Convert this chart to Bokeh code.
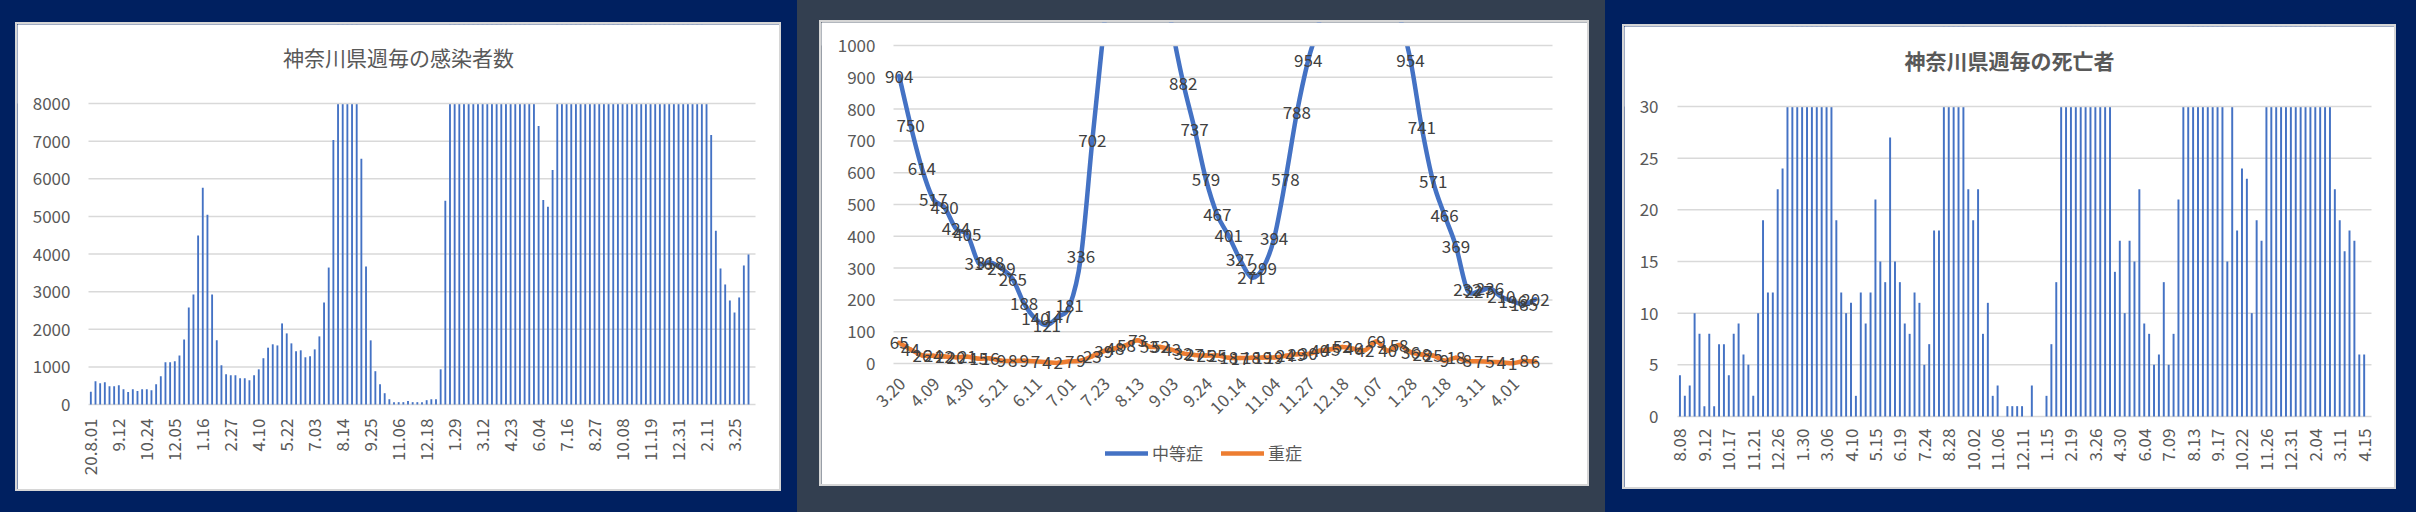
import math
from bokeh.plotting import figure
from bokeh.models import Range1d, LabelSet, ColumnDataSource, Legend, LegendItem, Row
from bokeh.core.properties import value
from bokeh.embed import file_html
from bokeh.resources import INLINE

NAVY = "#002060"
SLATE = "#333F50"
BLUE = "#4472C4"
ORANGE = "#ED7D31"
GRID = "#D9D9D9"
TXT = "#595959"
LBL = "#404040"
FONT = "Noto Sans CJK JP"

# ---------------- data: weekly infections ----------------
cases_title = "神奈川県週毎の感染者数"
cases_labels = ["20.8.01", "9.12", "10.24", "12.05", "1.16", "2.27", "4.10", "5.22", "7.03",
                "8.14", "9.25", "11.06", "12.18", "1.29", "3.12", "4.23", "6.04", "7.16",
                "8.27", "10.08", "11.19", "12.31", "2.11", "3.25"]
cases_label_step = 6
cases = [340, 620, 565, 590, 485, 485, 510, 405, 335, 405,
         360, 405, 405, 380, 540, 750, 1120, 1120, 1150, 1305,
         1730, 2580, 2925, 4490, 5760, 5045, 2925, 1705, 1040, 805,
         775, 775, 700, 700, 645, 775, 935, 1230, 1510, 1600,
         1570, 2155, 1890, 1625, 1415, 1440, 1255, 1280, 1465, 1810,
         2710, 3640, 7030, 10400, 13900, 16800, 14200, 10100, 6530, 3665,
         1705, 885, 540, 300, 140, 62, 62, 62, 90, 62,
         62, 62, 115, 140, 140, 935, 5415,
         16500, 30200, 41800, 44500, 40100, 35600, 31000, 27400, 25800, 24500,
         22600, 20100, 19000, 18200, 16400, 14900, 13800, 11500, 9300,
         7400, 5435, 5255, 6235,
         10400, 19800, 38500, 56000, 66000, 68500, 62000, 58000, 52000, 43000,
         36000, 30500, 22500, 17000, 14800, 12500, 11000, 9800, 10600, 12400,
         15800, 19500, 22800, 26000, 29500, 33800, 40200, 38400, 30100, 21600,
         15800, 12400, 9400,
         7165, 4620, 3615, 3190, 2765, 2445, 2845, 3695, 3985]
cases_yticks = [0, 1000, 2000, 3000, 4000, 5000, 6000, 7000, 8000]

# ---------------- data: moderate / severe patients ----------------
severity_labels = ["3.20", "4.09", "4.30", "5.21", "6.11", "7.01", "7.23", "8.13", "9.03", "9.24",
                   "10.14", "11.04", "11.27", "12.18", "1.07", "1.28", "2.18", "3.11", "4.01"]
severity_label_step = 3
severity_names = ["中等症", "重症"]
moderate = [904, 750, 614, 517, 490, 424, 405, 316, 318, 299,
            265, 188, 140, 121, 147, 181, 336, 702, 1050, 1400,
            1650, 1700, 1550, 1300, 1060, 882, 737, 579, 467, 401,
            327, 271, 299, 394, 578, 788, 954, 1080, 1300, 1500,
            1600, 1550, 1400, 1250, 1100, 954, 741, 571, 466, 369,
            232, 227, 236, 210, 196, 185, 202]
severe = [65, 44, 26, 24, 22, 20, 21, 15, 16, 9,
          8, 9, 7, 4, 2, 7, 9, 23, 39, 48,
          58, 73, 53, 52, 43, 32, 27, 25, 25, 18,
          17, 18, 19, 19, 24, 29, 30, 40, 45, 52,
          46, 42, 69, 40, 58, 36, 28, 25, 9, 18,
          8, 7, 5, 4, 1, 8, 6]
severity_yticks = [0, 100, 200, 300, 400, 500, 600, 700, 800, 900, 1000]

# ---------------- data: weekly deaths ----------------
deaths_title = "神奈川県週毎の死亡者"
deaths_labels = ["8.08", "9.12", "10.17", "11.21", "12.26", "1.30", "3.06", "4.10", "5.15", "6.19",
                 "7.24", "8.28", "10.02", "11.06", "12.11", "1.15", "2.19", "3.26", "4.30", "6.04",
                 "7.09", "8.13", "9.17", "10.22", "11.26", "12.31", "2.04", "3.11", "4.15"]
deaths_label_step = 5
deaths = [4, 2, 3, 10, 8, 1, 8, 1, 7, 7, 4, 8, 9, 6, 5, 2, 10, 19, 12, 12, 22, 24,
          36, 41, 52, 63, 70, 66, 58, 49, 42, 34,
          19, 12, 10, 11, 2, 12, 9, 12, 21, 15, 13, 27, 15, 13, 9, 8, 12, 11, 5, 7, 18, 18,
          39, 58, 72, 61, 44,
          22, 19, 22, 8, 11, 2, 3, 0, 1, 1, 1, 1,
          0, 3, 0, 0, 2, 7, 13,
          38, 55, 82, 106, 112, 98, 84, 70, 56, 45, 34,
          14, 17, 10, 17, 15, 22, 9, 8, 5, 6, 13, 5, 8, 21,
          35, 68, 112, 158, 176, 149, 112, 76, 48,
          15, 31,
          18, 24, 23, 10, 19, 17,
          33, 48, 75, 104, 142, 186, 224, 251, 236, 182, 128, 84, 52, 36,
          22, 19, 16, 18, 17, 6, 6]
deaths_yticks = [0, 5, 10, 15, 20, 25, 30]


class Panel:
    """A figure whose frame is the whole white card; the Excel plot area is mapped
    onto the given pixel box through the figure's own ranges."""

    def __init__(self, W, H, plot_box, n_cat, ymax):
        pl, pt, pw, ph = plot_box
        self.n_cat, self.ymax = n_cat, ymax
        self.cat = pw / n_cat
        self.unit = ph / ymax
        self.xs = -0.5 - pl / self.cat
        self.xe = self.xs + W / self.cat
        self.ye = ymax + pt / self.unit
        self.ys = self.ye - H / self.unit
        p = figure(width=W, height=H, x_range=Range1d(self.xs, self.xe),
                   y_range=Range1d(self.ys, self.ye), output_backend="svg",
                   toolbar_location=None, x_axis_location=None, y_axis_location=None,
                   min_border=0)
        p.grid.visible = False
        p.outline_line_color = None
        p.background_fill_color = "white"
        p.border_fill_color = "white"
        p.styles = {"box-shadow": "0 0 0 2px #D6D6D6"}
        self.p = p

    def to_data(self, cx, cy):
        return self.xs + cx / self.cat, self.ye - cy / self.unit

    def grid(self, ticks):
        n = len(ticks)
        self.p.segment(x0=[-0.5] * n, x1=[self.n_cat - 0.5] * n, y0=ticks, y1=ticks,
                       line_color=GRID, line_width=1.5)

    def mask_above(self):
        # hides what Excel clips above the top of the value axis
        self.p.quad(left=[self.xs], right=[self.xe], bottom=[self.ymax], top=[self.ye],
                    fill_color="white", line_color=None)

    def ylabels(self, ticks, standoff):
        s = ColumnDataSource(dict(x=[-0.5] * len(ticks), y=ticks, t=[str(t) for t in ticks]))
        self.p.add_layout(LabelSet(x="x", y="y", text="t", source=s, x_offset=-standoff,
                                   text_align="right", text_baseline="middle",
                                   text_font=value(FONT), text_font_size="17px",
                                   text_color=TXT))

    def xlabels(self, labels, step, angle, x_off, y_off):
        pos = [k * step for k in range(len(labels))]
        s = ColumnDataSource(dict(x=pos, y=[0] * len(pos), t=labels))
        self.p.add_layout(LabelSet(x="x", y="y", text="t", source=s, angle=angle,
                                   x_offset=x_off, y_offset=y_off, text_align="right",
                                   text_baseline="middle", text_font=value(FONT),
                                   text_font_size="17px", text_color=TXT))

    def title(self, text, cx, cy, bold):
        x, y = self.to_data(cx, cy)
        s = ColumnDataSource(dict(x=[x], y=[y], t=[text]))
        self.p.add_layout(LabelSet(x="x", y="y", text="t", source=s, text_align="center",
                                   text_baseline="middle", text_font=value(FONT),
                                   text_font_size="21px",
                                   text_font_style="bold" if bold else "normal",
                                   text_color=TXT))


# ---------------- chart 1: weekly infections ----------------
W1, H1 = 762, 465
c1 = Panel(W1, H1, (71, 79, 667, 301), len(cases) + 1, cases_yticks[-1])
c1.grid(cases_yticks[:-1])
c1.p.vbar(x=list(range(len(cases))), top=cases, width=0.4, fill_color=BLUE, line_color=None)
c1.mask_above()
c1.grid(cases_yticks[-1:])
c1.ylabels(cases_yticks, 18)
c1.xlabels(cases_labels, cases_label_step, math.pi / 2, 0, -14)
c1.title(cases_title, W1 / 2, 32, False)
c1.p.margin = (24, 18, 23, 17)

# ---------------- chart 2: moderate / severe ----------------
W2, H2 = 766, 462
c2 = Panel(W2, H2, (72, 23, 659, 318), len(moderate) + 1, severity_yticks[-1])
c2.grid(severity_yticks[:-1])


def smooth(ys):
    n = len(ys)
    d = dict(x0=[], y0=[], x1=[], y1=[], cx0=[], cy0=[], cx1=[], cy1=[])
    for i in range(n - 1):
        a = max(i - 1, 0)
        b = min(i + 2, n - 1)
        d["x0"].append(i); d["y0"].append(ys[i])
        d["x1"].append(i + 1); d["y1"].append(ys[i + 1])
        d["cx0"].append(i + (i + 1 - a) / 6); d["cy0"].append(ys[i] + (ys[i + 1] - ys[a]) / 6)
        d["cx1"].append(i + 1 - (b - i) / 6); d["cy1"].append(ys[i + 1] - (ys[b] - ys[i]) / 6)
    return ColumnDataSource(d)


line_rs = {}
for ys, col in ((severe, ORANGE), (moderate, BLUE)):
    line_rs[col] = c2.p.bezier(x0="x0", y0="y0", x1="x1", y1="y1", cx0="cx0", cy0="cy0",
                               cx1="cx1", cy1="cy1", source=smooth(ys), line_color=col,
                               line_width=4.5, line_cap="round")
c2.mask_above()
c2.grid(severity_yticks[-1:])
c2.ylabels(severity_yticks, 18)
c2.xlabels(severity_labels, severity_label_step, math.pi / 4, 3, -17)

for ys in (moderate, severe):
    xs = [i for i, v in enumerate(ys) if v <= c2.ymax]
    vs = [v for v in ys if v <= c2.ymax]
    s = ColumnDataSource(dict(x=xs, y=vs, t=[str(v) for v in vs]))
    c2.p.add_layout(LabelSet(x="x", y="y", text="t", source=s, text_align="center",
                             text_baseline="middle", text_font=value(FONT),
                             text_font_size="17px", text_color=LBL))

legend = Legend(items=[LegendItem(label=severity_names[0], renderers=[line_rs[BLUE]]),
                       LegendItem(label=severity_names[1], renderers=[line_rs[ORANGE]])],
                orientation="horizontal", location=(284, 19),
                glyph_width=43, glyph_height=18, label_standoff=4, spacing=18,
                padding=0, margin=0, border_line_color=None, background_fill_alpha=0,
                label_text_font=FONT, label_text_font_size="17px", label_text_color=TXT)
c2.p.add_layout(legend)
c2.p.margin = (22, 18, 28, 24)

# ---------------- chart 3: weekly deaths ----------------
W3, H3 = 770, 461
c3 = Panel(W3, H3, (53, 80, 694, 310), len(deaths) + 1, deaths_yticks[-1])
c3.grid(deaths_yticks[:-1])
c3.p.vbar(x=list(range(len(deaths))), top=deaths, width=0.4, fill_color=BLUE, line_color=None)
c3.mask_above()
c3.grid(deaths_yticks[-1:])
c3.ylabels(deaths_yticks, 19)
c3.xlabels(deaths_labels, deaths_label_step, math.pi / 2, 0, -12)
c3.title(deaths_title, W3 / 2, 33, True)
c3.p.margin = (26, 22, 25, 19)

box1 = Row(children=[c1.p], styles={"background-color": NAVY})
box2 = Row(children=[c2.p], styles={"background-color": SLATE})
box3 = Row(children=[c3.p], styles={"background-color": NAVY})
layout = Row(children=[box1, box2, box3], spacing=0)

open("out.html", "w").write(file_html(layout, INLINE))
